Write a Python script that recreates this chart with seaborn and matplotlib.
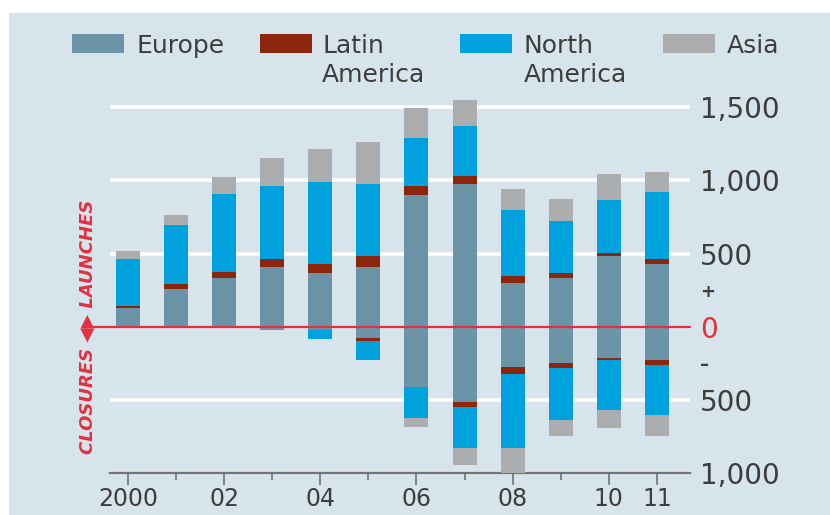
import matplotlib
matplotlib.use("Agg")
import matplotlib.pyplot as plt
import seaborn as sns
import numpy as np
from matplotlib.patches import Rectangle

# ---- data: hotel launches (above zero) and closures (below zero) by region ----
years = [2000, 2001, 2002, 2003, 2004, 2005, 2006, 2007, 2008, 2009, 2010, 2011]
year_labels = ["2000", "", "02", "", "04", "", "06", "", "08", "", "10", "11"]
regions = ["Europe", "Latin\nAmerica", "North\nAmerica", "Asia"]

launch_europe = [125, 255, 330, 405, 370, 410, 900, 975, 300, 330, 480, 430]
launch_latam = [20, 35, 45, 55, 60, 75, 60, 55, 45, 35, 25, 30]
launch_namerica = [320, 405, 530, 500, 555, 490, 330, 340, 450, 355, 360, 460]
launch_asia = [50, 70, 115, 195, 225, 285, 205, 180, 145, 150, 180, 135]

close_europe = [10, 0, 5, 25, 20, 75, 410, 515, 275, 245, 210, 225]
close_latam = [0, 0, 0, 0, 0, 20, 0, 35, 45, 35, 20, 35]
close_namerica = [0, 0, 0, 0, 65, 135, 210, 275, 505, 355, 340, 340]
close_asia = [0, 0, 0, 0, 0, 0, 65, 120, 175, 110, 120, 145]

ytick_values = [-1000, -500, -250, 0, 250, 500, 1000, 1500]
ytick_labels = ["1,000", "500", "\u2013", "0", "+", "500", "1,000", "1,500"]
grid_levels = [-500, 500, 1000, 1500]

# ---- style ----
region_colors = ["#6b95a7", "#8b260c", "#00a2de", "#acadaf"]
bg = "#d7e4ec"
red = "#e3303f"
text_col = "#3d3d3d"
axis_col = "#737373"

sns.set_theme(style="white")
plt.rcParams["font.family"] = ["DejaVu Sans"]

W, H = 830, 515
fig = plt.figure(figsize=(W / 100, H / 100), dpi=100)
fig.patch.set_facecolor("white")
fig.patches.append(Rectangle((9 / W, 0), 1, 1 - 13 / H, transform=fig.transFigure,
                             facecolor=bg, edgecolor="none", zorder=-10))

ax = fig.add_axes([110 / W, 1 - 473.3 / H, 580 / W, (473.3 - 85) / H])
ax.set_facecolor("none")

x_cats = [str(y) for y in years]

launch = np.array([launch_europe, launch_latam, launch_namerica, launch_asia], float)
close = np.array([close_europe, close_latam, close_namerica, close_asia], float)
launch_cum = np.cumsum(launch, axis=0)
close_cum = -np.cumsum(close, axis=0)

# stacked bars: draw the cumulative totals from the outermost region inwards
for cum in (launch_cum, close_cum):
    for i in reversed(range(len(regions))):
        sns.barplot(x=x_cats, y=cum[i], color=region_colors[i], saturation=1,
                    width=0.5, errorbar=None, linewidth=0, ax=ax, zorder=3)

for lvl in grid_levels:
    ax.axhline(lvl, color="white", lw=2.6, zorder=1)

# zero line, running out into the left-hand caption
ax.axhline(0, xmin=-(110 - 93) / 580, xmax=1.0, color=red, lw=1.6,
           zorder=6, clip_on=False)

ax.set_xlim(-0.374, 11.69)
ax.set_ylim(-1000, 1650)

major_pos = [i for i, l in enumerate(year_labels) if l]
minor_pos = [i for i, l in enumerate(year_labels) if not l]
ax.set_xticks(major_pos, [year_labels[i] for i in major_pos])
ax.set_xticks(minor_pos, minor=True)
ax.tick_params(axis="x", which="major", length=8.5, width=1.2, color=axis_col,
               labelsize=17, labelcolor=text_col, pad=1.5, direction="out", bottom=True)
ax.tick_params(axis="x", which="minor", length=5, width=1.2, color=axis_col,
               direction="out", bottom=True)

ax.yaxis.tick_right()
ax.set_yticks(ytick_values, ytick_labels)
ax.tick_params(axis="y", length=0, pad=7, labelsize=20, labelcolor=text_col)
for lab in ax.get_yticklabels():
    t = lab.get_text()
    if t == "0":
        lab.set_color(red)
    elif t in ("+", "\u2013"):
        lab.set_fontsize(13)
        lab.set_fontweight("bold")

ax.set_xlabel("")
ax.set_ylabel("")
for side in ("left", "right", "top"):
    ax.spines[side].set_visible(False)
ax.spines["bottom"].set_color(axis_col)
ax.spines["bottom"].set_linewidth(1.6)

# legend along the top
patch_x = [72, 260, 460, 663]
text_x = [136, 322, 524, 727]
for name, col, px, tx in zip(regions, region_colors, patch_x, text_x):
    fig.patches.append(Rectangle((px / W, 1 - 53 / H), 52 / W, 19 / H,
                                 transform=fig.transFigure, facecolor=col,
                                 edgecolor="none"))
    fig.text(tx / W, 1 - 34 / H, name, ha="left", va="top", fontsize=18,
             color=text_col, linespacing=1.25)

# vertical caption: closures below zero, launches above
ax.text(-(110 - 88) / 580, 0, "CLOSURES \u25C0\u25B6 LAUNCHES",
        transform=ax.get_yaxis_transform(), rotation=90, ha="center", va="center",
        color=red, fontsize=13, fontweight="bold", fontstyle="oblique",
        family=["DejaVu Sans Condensed", "DejaVu Sans"], clip_on=False)

fig.savefig("out.png", dpi=100, facecolor=fig.get_facecolor())
